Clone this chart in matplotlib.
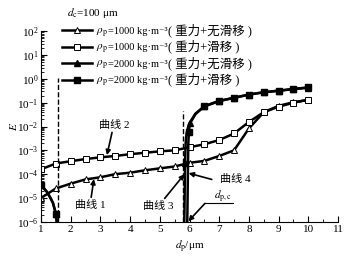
import numpy as np
import matplotlib
matplotlib.use('Agg')
import matplotlib.pyplot as plt
from matplotlib.lines import Line2D
from matplotlib.ticker import LogLocator, MultipleLocator

plt.rcParams['font.family'] = ['Liberation Serif', 'Noto Sans CJK SC', 'DejaVu Serif']
plt.rcParams['mathtext.fontset'] = 'stix'
plt.rcParams['font.size'] = 8

# 数据
dp = [1.0, 1.5, 2.0, 2.5, 3.0, 3.5, 4.0, 4.5, 5.0, 5.5,
      6.0, 6.5, 7.0, 7.5, 8.0, 8.5, 9.0, 9.5, 10.0]
E1 = [1.0e-5, 2.5e-5, 4.0e-5, 6.0e-5, 7.4e-5, 1.0e-4, 1.15e-4, 1.45e-4, 1.75e-4, 2.1e-4,
      3.0e-4, 3.6e-4, 5.8e-4, 1.0e-3, 8.3e-3, 4.0e-2, 7.4e-2, 0.105, 0.13]
E2 = [1.6e-4, 2.8e-4, 3.5e-4, 4.3e-4, 5.1e-4, 5.8e-4, 6.9e-4, 7.9e-4, 9.1e-4, 1.0e-3,
      1.35e-3, 1.8e-3, 2.7e-3, 5.1e-3, 1.55e-2, 4.0e-2, 6.8e-2, 0.10, 0.135]

# 2000 kg/m3: 小粒径分支
dp_left = [1.0, 1.1, 1.2, 1.3, 1.4, 1.5, 1.55]
E_left = [3.5e-5, 2.5e-5, 1.8e-5, 1.1e-5, 6.3e-6, 2.2e-6, 6e-7]

# 曲线 3 (重力+无滑移) 大粒径分支
dp3 = [5.82, 5.83, 5.84, 5.85, 5.87, 5.9, 5.95, 6.0, 6.2, 6.5, 7.0, 7.5, 8.0, 8.5, 9.0, 9.5, 10.0]
E3 = [5e-7, 3e-6, 3e-5, 3e-4, 2e-3, 5e-3, 9e-3, 1.4e-2, 3.5e-2, 7.0e-2, 0.117, 0.162, 0.22, 0.275, 0.32, 0.37, 0.43]
mk3 = [3, 7, 9, 10, 11, 12, 13, 14, 15, 16]

# 曲线 4 (重力+滑移)
dp4 = [5.92, 5.93, 5.94, 5.95, 5.96, 5.98, 6.0, 6.05, 6.2, 6.5, 7.0, 7.5, 8.0, 8.5, 9.0, 9.5, 10.0]
E4 = [5e-7, 3e-6, 3e-5, 3e-4, 2e-3, 6e-3, 1e-2, 1.6e-2, 3.3e-2, 7.2e-2, 0.12, 0.16, 0.22, 0.275, 0.32, 0.38, 0.44]
mk4 = [5, 9, 10, 11, 12, 13, 14, 15, 16]

rho_vals = ['1000', '1000', '2000', '2000']
labels_cn = ['( 重力+无滑移 )', '( 重力+滑移 )', '( 重力+无滑移 )', '( 重力+滑移 )']

W, H = 349, 264
fig = plt.figure(figsize=(W / 100, H / 100), dpi=100)
ax = fig.add_axes([0.1175, 0.160, 0.851, 0.7214])

lw = 1.8
ms = 4.5
styles = [dict(marker='^', ms=ms, mfc='white', mec='k', mew=0.7),
          dict(marker='s', ms=ms - 0.5, mfc='white', mec='k', mew=0.7),
          dict(marker='^', ms=ms),
          dict(marker='s', ms=ms - 0.5)]

ax.plot(dp, E1, 'k-', lw=lw, **styles[0])
ax.plot(dp, E2, 'k-', lw=lw, **styles[1])
ax.plot(dp_left, E_left, 'k-', lw=lw, markevery=[0, 5], **styles[2])
ax.plot(dp_left, E_left, 'k-', lw=lw, markevery=[0, 5], **styles[3])
ax.plot(dp3, E3, 'k-', lw=lw, markevery=mk3, **styles[2])
ax.plot(dp4, E4, 'k-', lw=lw, markevery=mk4, **styles[3])

# 虚线
ax.plot([1.56, 1.56], [1e-6, 1.1], 'k--', lw=1.0)
ax.plot([5.77, 5.77], [1e-6, 4.5e-2], 'k--', lw=1.0)

ax.set_yscale('log')
ax.set_xlim(1, 11)
ax.set_ylim(1e-6, 1e2)
ax.xaxis.set_major_locator(MultipleLocator(1))
ax.xaxis.set_minor_locator(MultipleLocator(0.5))
ax.yaxis.set_major_locator(LogLocator(base=10, numticks=20))
ax.yaxis.set_minor_locator(LogLocator(base=10, subs=np.arange(2, 10), numticks=20))
ax.spines['top'].set_visible(False)
ax.spines['right'].set_visible(False)
ax.tick_params(which='both', direction='in', top=False, right=False, labelsize=8, pad=2)
ax.tick_params(which='major', length=4, width=0.8)
ax.tick_params(which='minor', length=2, width=0.6)
ax.set_xlabel(r'$d_{\rm p}$/μm', fontsize=8, labelpad=4)
ax.set_ylabel(r'$E$', fontsize=8)
ax.yaxis.set_label_coords(-0.075, 0.5)

# 标注
arr = dict(arrowstyle='-|>', color='k', lw=1.2, mutation_scale=7, shrinkA=0, shrinkB=0)
ax.annotate('曲线 1', xy=(2.78, 6.2e-5), xytext=(2.65, 5.0e-6), ha='center', va='center',
            fontsize=8, arrowprops=arr)
ax.annotate('曲线 2', xy=(3.22, 6.3e-4), xytext=(3.45, 1.2e-2), ha='center', va='center',
            fontsize=8, arrowprops=arr)
ax.annotate('曲线 3', xy=(5.83, 1.0e-4), xytext=(4.95, 4.5e-6), ha='center', va='center',
            fontsize=8, arrowprops=arr)
ax.annotate('', xy=(5.97, 1.1e-4), xytext=(6.75, 6.0e-5), arrowprops=arr)
ax.text(7.55, 6.0e-5, '曲线 4', ha='center', va='center', fontsize=8)
ax.plot([6.52, 7.47], [5.9e-6, 5.9e-6], 'k-', lw=0.8)
ax.annotate('', xy=(5.96, 1.05e-6), xytext=(6.52, 5.9e-6), arrowprops=arr)
ax.text(7.12, 1.1e-5, r'$d_{\rm p,c}$', ha='center', va='center', fontsize=8)

# 图例 (手工排版, 像素坐标从左上角算)
renderer = fig.canvas.get_renderer()


def ftext(px, py, s, **kw):
    t = fig.text(px / W, 1 - py / H, s, ha='left', va='baseline', **kw)
    return t.get_window_extent(renderer).x1


ftext(67, 16.5, r'$d_{\rm c}$=100 μm', fontsize=8)
baselines = [34, 50.5, 66.8, 83.3]
for i in range(4):
    yb = baselines[i]
    yl = 1 - (yb - 3.8) / H
    fig.add_artist(Line2D([62 / W, 92 / W], [yl, yl], color='k', lw=lw,
                          transform=fig.transFigure))
    fig.add_artist(Line2D([77 / W], [yl], color='k', ls='none',
                          transform=fig.transFigure, **styles[i]))
    x = ftext(96.5, yb, r'$\rho_{\rm p}$', fontsize=8)
    x = ftext(x, yb, '=' + rho_vals[i] + ' kg·m⁻³', fontsize=7.5)
    ftext(x, yb, labels_cn[i], fontsize=9)

fig.savefig('out.png', dpi=100)
